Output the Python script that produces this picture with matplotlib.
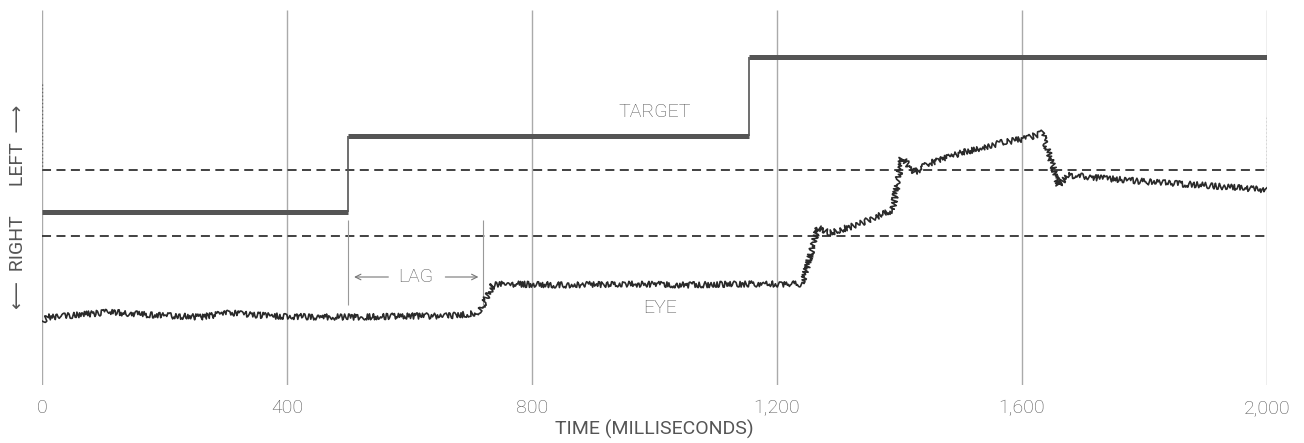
import matplotlib
matplotlib.use("Agg")
import matplotlib.pyplot as plt
from matplotlib import font_manager

# ---- data (time in ms, position in arbitrary units, 0 = bottom of chart) ----
target_times = [0, 500, 1155, 2000]
target_levels = [173, 249, 328]

eye_times = [0, 10, 60, 111, 176, 258, 307, 372, 450, 520, 600, 660, 700, 715,
             736, 760, 850, 950, 1050, 1150, 1241, 1267, 1285, 1330, 1389, 1404,
             1425, 1450, 1500, 1564, 1610, 1633, 1660, 1675, 1727, 1809, 1891, 2000]
eye_pos = [64, 68, 70, 73, 70, 68, 72, 69, 68, 68, 69, 69, 71, 74,
           100, 101, 100, 101, 100, 101, 101, 157, 152, 160, 175, 227,
           213, 222, 232, 242, 247, 252, 200, 210, 207, 203, 200, 195]

reference_levels = [215, 149]          # dashed lines
grid_times = [0, 400, 800, 1200, 1600, 2000]
tick_labels = ["0", "400", "800", "1,200", "1,600", "2,000"]

lag_start, lag_end = 500, 720
lag_marker_low, lag_marker_high = 80, 165
lag_y = 108

# ---- fonts ----
avail = {f.name for f in font_manager.fontManager.ttflist}
fam = [f for f in ["Liberation Sans Narrow", "Roboto", "DejaVu Sans"] if f in avail] + ["DejaVu Sans"]
plt.rcParams['font.family'] = fam
plt.rcParams['font.weight'] = 'light'

TXT = "#555555"
FS = 14

fig = plt.figure(figsize=(13.04, 4.43), dpi=100)
ax = fig.add_axes([42 / 1304, (443 - 385) / 443, 1225 / 1304, 375 / 443])
ax.set_xlim(0, 2000)
ax.set_ylim(0, 375)
for s in ax.spines.values():
    s.set_visible(False)

# grid
ax.vlines(grid_times, 0, 375, color="#aaaaaa", lw=1.0, zorder=1)

# dashed reference lines
for lv in reference_levels:
    ax.plot([0, 2000], [lv, lv], color="#333333", lw=1.3, ls=(0, (5, 3)), zorder=2)

# edge dotted marks
ax.vlines([0], reference_levels[0], 302, color="#666666", lw=1.0, ls=":", zorder=2)
ax.vlines([2000], reference_levels[0], 270, color="#666666", lw=1.0, ls=":", zorder=2)

# target: thick horizontal segments + thin risers
ax.hlines(target_levels, target_times[:-1], target_times[1:], color="#555555", lw=3.6, zorder=3)
ax.vlines(target_times[1:-1], target_levels[:-1], target_levels[1:], color="#555555", lw=1.2, zorder=3)

# eye trace with jittery rendering
eye_line, = ax.plot(eye_times, eye_pos, color="#2a2a2a", lw=1.2, zorder=4)
eye_line.set_sketch_params(scale=3.0, length=1.3, randomness=8)

# LAG markers
ax.vlines([lag_start, lag_end], lag_marker_low, lag_marker_high, color="#999999", lw=0.8, zorder=2)
ax.text((lag_start + lag_end) / 2, lag_y, "LAG", ha="center", va="center",
        fontsize=FS, color=TXT)
ax.annotate("", xy=(lag_start + 5, lag_y), xytext=(lag_start + 70, lag_y),
            arrowprops=dict(arrowstyle="->", color="#777777", lw=0.8))
ax.annotate("", xy=(lag_end - 3, lag_y), xytext=(lag_end - 66, lag_y),
            arrowprops=dict(arrowstyle="->", color="#777777", lw=0.8))

# labels
ax.text(1001, 273, "TARGET", ha="center", va="center", fontsize=FS, color=TXT)
ax.text(1009, 77, "EYE", ha="center", va="center", fontsize=FS, color=TXT)

ax.set_yticks([])
ax.set_xticks(grid_times)
ax.set_xticklabels(tick_labels, fontsize=FS, color=TXT)
ax.tick_params(axis="x", length=0, pad=10)
ax.set_xlabel("TIME (MILLISECONDS)", fontsize=FS, color=TXT, labelpad=2)

fig.text(18 / 1304, 1 - 207 / 443, "\u27F5  RIGHT      LEFT  \u27F6", rotation=90,
         ha="center", va="center", fontsize=FS, color=TXT,
         family=["Roboto", "DejaVu Sans"], fontweight="normal")

fig.savefig("out.png", dpi=100, facecolor="white")
